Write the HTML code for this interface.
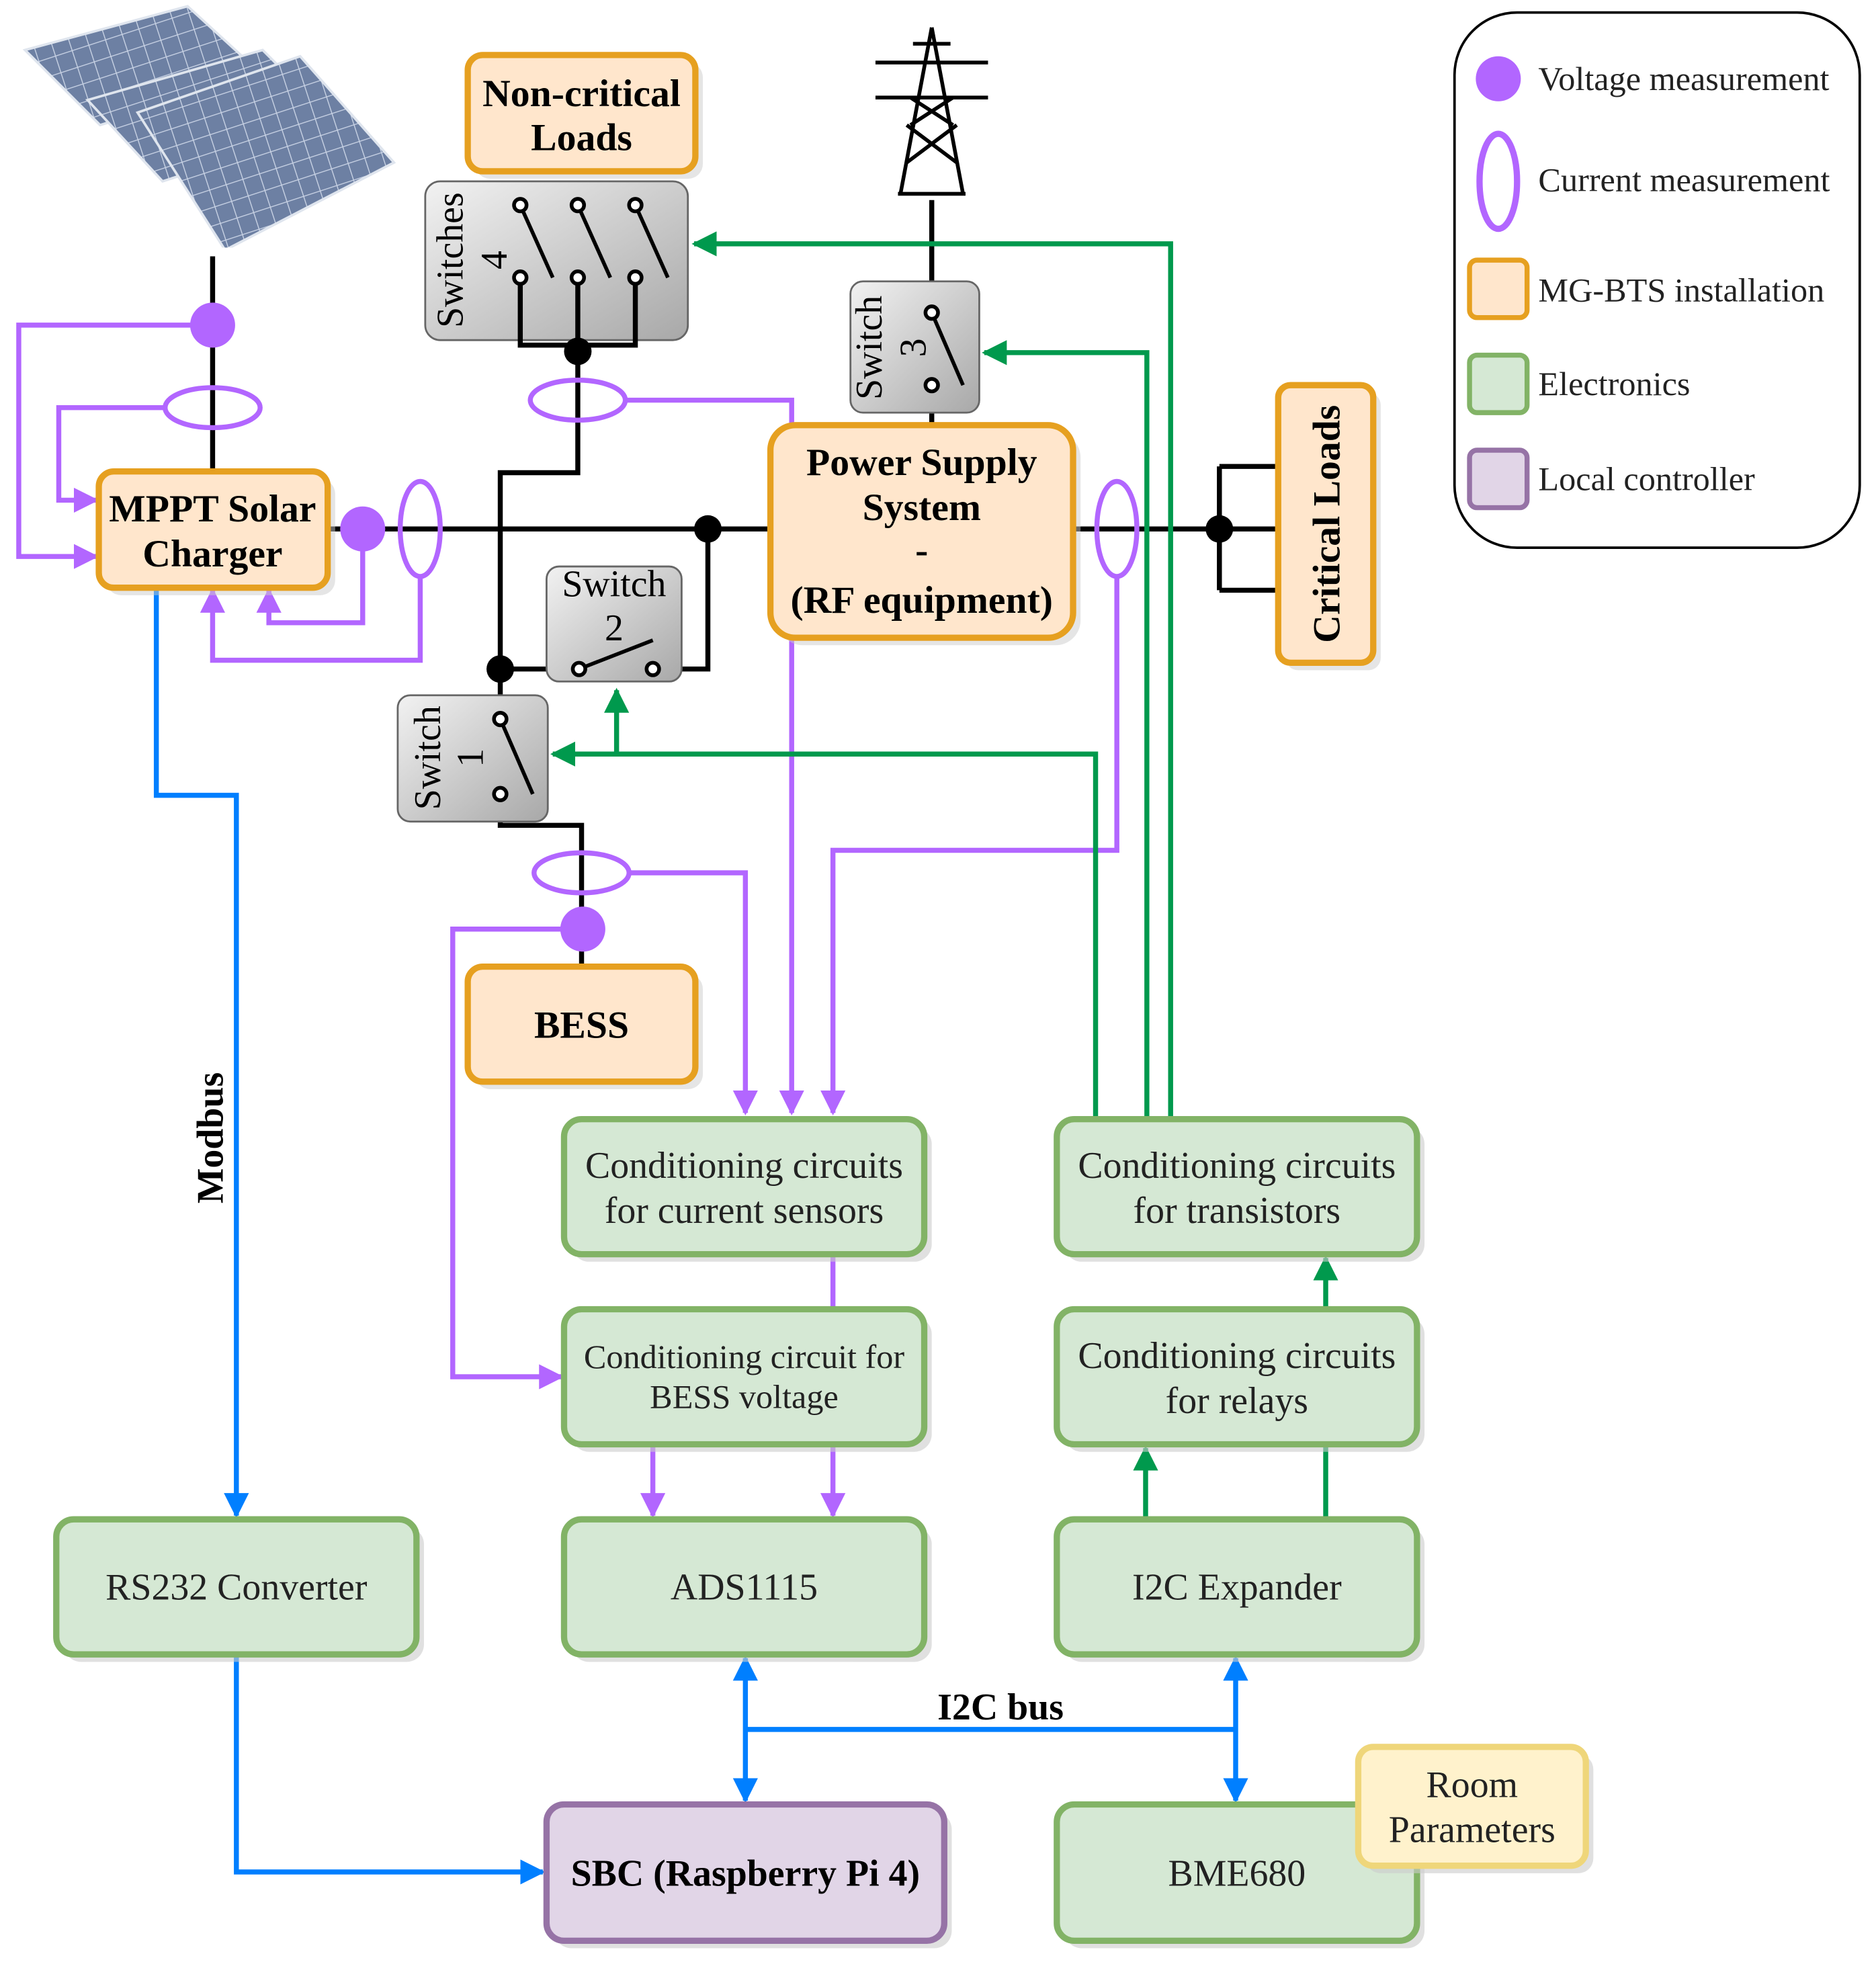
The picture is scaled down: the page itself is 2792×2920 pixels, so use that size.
<!DOCTYPE html>
<html><head><meta charset="utf-8"><style>
html,body{margin:0;padding:0;background:#fff;}
svg{display:block;}
text{font-family:"Liberation Serif",serif;}
</style></head><body>
<svg width="2792" height="2920" viewBox="0 0 1500 1569" preserveAspectRatio="none" xmlns="http://www.w3.org/2000/svg">
<defs>
<linearGradient id="g" x1="0" y1="0" x2="1" y2="1"><stop offset="0" stop-color="#f2f2f2"/><stop offset="1" stop-color="#a8a8a8"/></linearGradient>
<linearGradient id="p" x1="0" y1="0" x2="1" y2="1"><stop offset="0" stop-color="#4a5a7a"/><stop offset="1" stop-color="#9fb0cc"/></linearGradient>
<pattern id="grid" width="14" height="14" patternUnits="userSpaceOnUse" patternTransform="rotate(-18)"><rect width="14" height="14" fill="#6d80a3"/><path d="M0,0H14M0,0V14" stroke="#c8d2e4" stroke-width="1.5"/></pattern>
<marker id="ap" viewBox="0 0 10 10" refX="9" refY="5" markerWidth="5" markerHeight="5" orient="auto"><path d="M0,0L10,5L0,10z" fill="#b266ff"/></marker>
<marker id="ag" viewBox="0 0 10 10" refX="9" refY="5" markerWidth="5" markerHeight="5" orient="auto"><path d="M0,0L10,5L0,10z" fill="#00994d"/></marker>
<marker id="ab" viewBox="0 0 10 10" refX="9" refY="5" markerWidth="5" markerHeight="5" orient="auto-start-reverse"><path d="M0,0L10,5L0,10z" fill="#007fff"/></marker>
</defs>
<!-- solar panels -->
<g stroke="#dfe5ee" stroke-width="2">
<polygon points="20,40 150,5 210,60 80,100" fill="url(#grid)"/>
<polygon points="70,80 210,40 270,100 130,145" fill="url(#grid)"/>
<polygon points="110,90 240,45 315,130 180,200" fill="url(#grid)"/>
</g>
<rect x="15" y="198" width="310" height="12" fill="#fff"/>
<!-- tower -->
<g stroke="#000" stroke-width="3" fill="none">
<path d="M745,22 L720,155 M745,22 L770,155 M700,50 L790,50 M700,78 L790,78 M730,35 L760,35 M725,100 L765,130 M765,100 L725,130 M728,78 L762,100 M762,78 L728,100 M718,155 L772,155"/>
</g>
<!-- black power lines -->
<g stroke="#000" stroke-width="4" fill="none">
<path d="M170,205 V377"/>
<path d="M262,423 H616 M858,423 H1022"/>
<path d="M975,373 V472 M975,373 H1022 M975,472 H1022"/>
<path d="M745,160 V245 M745,308 V340"/>
<path d="M462,281 V378 H400 V575 M400,635 V660 H465 V773"/>
<path d="M400,535 H463 M522,535 H566 V423"/>
</g>
<!-- switches boxes -->
<g stroke="#666" stroke-width="1.5" fill="url(#g)">
<rect x="340" y="145" width="210" height="127" rx="12"/>
<rect x="680" y="225" width="103" height="105" rx="10"/>
<rect x="437" y="453" width="108" height="92" rx="10"/>
<rect x="318" y="556" width="120" height="101" rx="10"/>
</g>
<g stroke="#000" stroke-width="4" fill="none">
<path d="M416,222 V276 H508 V222 M462,222 V281"/>
</g>
<g stroke="#000" stroke-width="3" fill="#fff">
<path d="M416,164 L442,222 M462,164 L488,222 M508,164 L534,222 M745,250 L770,308 M463,535 L522,512 M400,575 L426,635" fill="none"/>
<circle cx="416" cy="164" r="5"/><circle cx="416" cy="222" r="5"/>
<circle cx="462" cy="164" r="5"/><circle cx="462" cy="222" r="5"/>
<circle cx="508" cy="164" r="5"/><circle cx="508" cy="222" r="5"/>
<circle cx="745" cy="250" r="5"/><circle cx="745" cy="308" r="5"/>
<circle cx="463" cy="535" r="5"/><circle cx="522" cy="535" r="5"/>
<circle cx="400" cy="575" r="5"/><circle cx="400" cy="635" r="5"/>
</g>
<g fill="#000"><circle cx="462" cy="281" r="11"/><circle cx="400" cy="535" r="11"/><circle cx="566" cy="423" r="11"/><circle cx="975" cy="423" r="11"/></g>
<g font-size="30" fill="#000">
<text transform="translate(370,208) rotate(-90)" text-anchor="middle">Switches</text>
<text transform="translate(405,208) rotate(-90)" text-anchor="middle">4</text>
<text transform="translate(705,278) rotate(-90)" text-anchor="middle">Switch</text>
<text transform="translate(740,278) rotate(-90)" text-anchor="middle">3</text>
<text x="491" y="477" text-anchor="middle">Switch</text>
<text x="491" y="512" text-anchor="middle">2</text>
<text transform="translate(352,606) rotate(-90)" text-anchor="middle">Switch</text>
<text transform="translate(386,606) rotate(-90)" text-anchor="middle">1</text>
</g>
<!-- purple -->
<g stroke="#b266ff" stroke-width="4" fill="none">
<path d="M170,260 H15 V445 H77" marker-end="url(#ap)"/>
<path d="M132,326 H47 V400 H77" marker-end="url(#ap)"/>
<path d="M290,423 V498 H215 V472" marker-end="url(#ap)"/>
<path d="M336,461 V528 H170 V472" marker-end="url(#ap)"/>
<path d="M500,320 H633 V890" marker-end="url(#ap)"/>
<path d="M503,698 H596 V890" marker-end="url(#ap)"/>
<path d="M466,743 H362 V1101 H449" marker-end="url(#ap)"/>
<path d="M893,461 V680 H666 V890" marker-end="url(#ap)"/>
<path d="M666,1003 V1047"/>
<path d="M522,1155 V1212" marker-end="url(#ap)"/>
<path d="M666,1155 V1212" marker-end="url(#ap)"/>
<ellipse cx="170" cy="326" rx="38" ry="16"/>
<ellipse cx="336" cy="423" rx="16" ry="38"/>
<ellipse cx="462" cy="320" rx="38" ry="16"/>
<ellipse cx="465" cy="698" rx="38" ry="16"/>
<ellipse cx="893" cy="423" rx="16" ry="38"/>
</g>
<g fill="#b266ff"><circle cx="170" cy="260" r="18"/><circle cx="290" cy="423" r="18"/><circle cx="466" cy="743" r="18"/></g>
<!-- green -->
<g stroke="#00994d" stroke-width="4" fill="none">
<path d="M936,893 V195 H555" marker-end="url(#ag)"/>
<path d="M917,893 V282 H787" marker-end="url(#ag)"/>
<path d="M876,893 V603 H442" marker-end="url(#ag)"/>
<path d="M493,603 V552" marker-end="url(#ag)"/>
<path d="M1060,1047 V1006" marker-end="url(#ag)"/>
<path d="M916,1215 V1158" marker-end="url(#ag)"/>
<path d="M1060,1215 V1155"/>
</g>
<!-- blue -->
<g stroke="#007fff" stroke-width="4" fill="none">
<path d="M125,470 V636 H189 V1212" marker-end="url(#ab)"/>
<path d="M189,1323 V1497 H434" marker-end="url(#ab)"/>
<path d="M596,1326 V1440" marker-start="url(#ab)" marker-end="url(#ab)"/>
<path d="M988,1326 V1440" marker-start="url(#ab)" marker-end="url(#ab)"/>
<path d="M596,1383 H988"/>
</g>
<text transform="translate(178,910) rotate(-90)" text-anchor="middle" font-size="30" font-weight="bold">Modbus</text>
<text x="800" y="1375" text-anchor="middle" font-size="30" font-weight="bold">I2C bus</text>
<!-- orange boxes -->
<g fill="#ffe6cc" stroke="#e6a020" stroke-width="5">
<rect x="380" y="50" width="182" height="93" rx="12" fill="#ccc" stroke="none" opacity=".5"/>
<rect x="374" y="44" width="182" height="93" rx="12"/>
<rect x="85" y="383" width="183" height="93" rx="12" fill="#ccc" stroke="none" opacity=".5"/>
<rect x="79" y="377" width="183" height="93" rx="12"/>
<rect x="622" y="346" width="242" height="170" rx="20" fill="#ccc" stroke="none" opacity=".5"/>
<rect x="616" y="340" width="242" height="170" rx="20"/>
<rect x="1028" y="314" width="76" height="222" rx="10" fill="#ccc" stroke="none" opacity=".5"/>
<rect x="1022" y="308" width="76" height="222" rx="10"/>
<rect x="380" y="779" width="182" height="92" rx="12" fill="#ccc" stroke="none" opacity=".5"/>
<rect x="374" y="773" width="182" height="92" rx="12"/>
</g>
<g font-size="31" font-weight="bold" text-anchor="middle">
<text x="465" y="85">Non-critical</text><text x="465" y="120">Loads</text>
<text x="170" y="417">MPPT Solar</text><text x="170" y="453">Charger</text>
<text x="737" y="380">Power Supply</text><text x="737" y="416">System</text><text x="737" y="450">-</text><text x="737" y="490">(RF equipment)</text>
<text transform="translate(1071,419) rotate(-90)">Critical Loads</text>
<text x="465" y="830">BESS</text>
</g>
<!-- green boxes -->
<g fill="#d5e8d4" stroke="#82b366" stroke-width="5">
<g fill="#ccc" stroke="none" opacity=".6">
<rect x="457" y="901" width="288" height="108" rx="14"/><rect x="851" y="901" width="288" height="108" rx="14"/>
<rect x="457" y="1053" width="288" height="108" rx="14"/><rect x="851" y="1053" width="288" height="108" rx="14"/>
<rect x="51" y="1221" width="288" height="108" rx="14"/><rect x="457" y="1221" width="288" height="108" rx="14"/><rect x="851" y="1221" width="288" height="108" rx="14"/>
<rect x="851" y="1449" width="288" height="109" rx="14"/><rect x="443" y="1449" width="318" height="109" rx="14"/>
</g>
<rect x="451" y="895" width="288" height="108" rx="14"/><rect x="845" y="895" width="288" height="108" rx="14"/>
<rect x="451" y="1047" width="288" height="108" rx="14"/><rect x="845" y="1047" width="288" height="108" rx="14"/>
<rect x="45" y="1215" width="288" height="108" rx="14"/><rect x="451" y="1215" width="288" height="108" rx="14"/><rect x="845" y="1215" width="288" height="108" rx="14"/>
<rect x="845" y="1443" width="288" height="109" rx="14"/>
<rect x="437" y="1443" width="318" height="109" rx="14" fill="#e1d5e7" stroke="#9673a6"/>
<rect x="1092" y="1403" width="182" height="95" rx="12" fill="#ccc" stroke="none" opacity=".6"/>
<rect x="1086" y="1397" width="182" height="95" rx="12" fill="#fff2cc" stroke="#efd67a"/>
</g>
<g font-size="30" text-anchor="middle" fill="#222">
<text x="595" y="942">Conditioning circuits</text><text x="595" y="978">for current sensors</text>
<text x="989" y="942">Conditioning circuits</text><text x="989" y="978">for transistors</text>
<text x="595" y="1094" font-size="27">Conditioning circuit for</text><text x="595" y="1126" font-size="27">BESS voltage</text>
<text x="989" y="1094">Conditioning circuits</text><text x="989" y="1130">for relays</text>
<text x="189" y="1279">RS232 Converter</text>
<text x="595" y="1279">ADS1115</text>
<text x="989" y="1279">I2C Expander</text>
<text x="989" y="1508">BME680</text>
<text x="596" y="1508" font-weight="bold" fill="#000">SBC (Raspberry Pi 4)</text>
<text x="1177" y="1437">Room</text><text x="1177" y="1473">Parameters</text>
</g>
<!-- legend -->
<rect x="1163" y="10" width="324" height="428" rx="50" fill="#fff" stroke="#000" stroke-width="2"/>
<circle cx="1198" cy="63" r="18" fill="#b266ff"/>
<ellipse cx="1198" cy="145" rx="15" ry="38" fill="none" stroke="#b266ff" stroke-width="5"/>
<rect x="1175" y="208" width="46" height="46" rx="6" fill="#ffe6cc" stroke="#e6a020" stroke-width="4"/>
<rect x="1175" y="284" width="46" height="46" rx="6" fill="#d5e8d4" stroke="#82b366" stroke-width="4"/>
<rect x="1175" y="360" width="46" height="46" rx="6" fill="#e1d5e7" stroke="#9673a6" stroke-width="4"/>
<g font-size="27" fill="#222">
<text x="1230" y="72">Voltage measurement</text>
<text x="1230" y="153">Current measurement</text>
<text x="1230" y="241">MG-BTS installation</text>
<text x="1230" y="316">Electronics</text>
<text x="1230" y="392">Local controller</text>
</g>
</svg>
</body></html>
